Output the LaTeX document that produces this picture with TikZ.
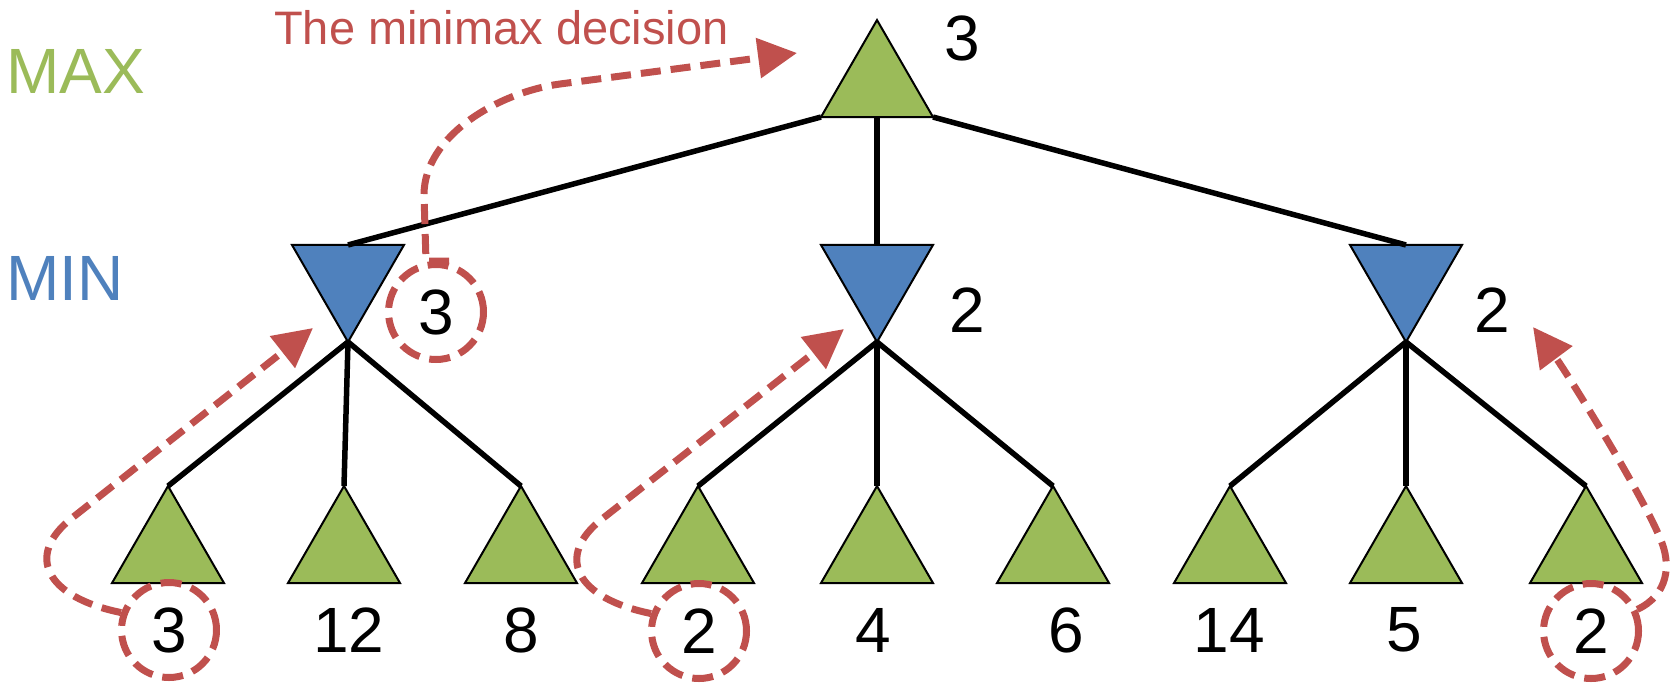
\documentclass[tikz,border=0pt]{standalone}
\usepackage{fontspec}
\setmainfont{Liberation Sans}
\usetikzlibrary{shapes.geometric,arrows.meta,calc}
\definecolor{mygreen}{HTML}{9BBB59}
\definecolor{myblue}{HTML}{4F81BD}
\definecolor{myred}{HTML}{C0504D}
\begin{document}
\begin{tikzpicture}[x=1pt,y=-1pt,
  tri/.style={regular polygon, regular polygon sides=3, minimum size=129.3pt,
    inner sep=0pt, outer sep=0pt, draw=black, line width=2pt},
  maxtri/.style={tri, fill=mygreen},
  mintri/.style={tri, fill=myblue, shape border rotate=180},
  edge/.style={line width=5.5pt, black},
  val/.style={font=\fontsize{64}{70}\selectfont, inner sep=0pt, text=black},
  ring/.style={val, circle, draw=myred, line width=7pt, dash pattern=on 21pt off 10pt,
    minimum size=95pt},
  flow/.style={color=myred, line width=7pt, dash pattern=on 20pt off 10pt,
    -{Triangle[length=39pt,width=39pt]}},
  lvl/.style={font=\fontsize{64}{70}\selectfont, inner sep=0pt, anchor=base west},
]
\useasboundingbox (0,0) rectangle (1677,685);

% level labels
\node[lvl, text=mygreen] (maxlbl) at (6,93) {MAX};
\node[lvl, text=myblue] (minlbl) at (6,300) {MIN};
\node[font=\fontsize{47}{52}\selectfont, inner sep=0pt, anchor=base west, text=myred]
  (title) at (274,45) {The minimax decision};

% root
\node[maxtri] (root) at (877,84.7) {};
% min nodes
\node[mintri] (minL) at (348,277.3) {};
\node[mintri] (minM) at (877,277.3) {};
\node[mintri] (minR) at (1406,277.3) {};
% leaves
\foreach \i/\x in {1/168,2/344,3/521,4/698,5/877,6/1053,7/1230,8/1406,9/1586}
  \node[maxtri] (leaf\i) at (\x,550.7) {};

% edges
\draw[edge] (root.corner 2) -- ($(minL.corner 2)!.5!(minL.corner 3)$);
\draw[edge] ($(root.corner 2)!.5!(root.corner 3)$) -- ($(minM.corner 2)!.5!(minM.corner 3)$);
\draw[edge] (root.corner 3) -- ($(minR.corner 2)!.5!(minR.corner 3)$);
\foreach \m/\a/\b/\c in {minL/1/2/3, minM/4/5/6, minR/7/8/9}{
  \draw[edge] (\m.corner 1) -- (leaf\a.corner 1);
  \draw[edge] (\m.corner 1) -- (leaf\b.corner 1);
  \draw[edge] (\m.corner 1) -- (leaf\c.corner 1);
}

% values
\node[val] (vroot) at (962,38) {3};
\node[ring] (cm) at (436,312) {3};
\node[val] (vminM) at (967,310) {2};
\node[val] (vminR) at (1492,310) {2};

\node[ring] (c1) at (169,630) {3};
\node[val] (v2) at (349,630) {12};
\node[val] (v3) at (521,630) {8};
\node[ring] (c4) at (699,631) {2};
\node[val] (v5) at (873,630) {4};
\node[val] (v6) at (1066,630) {6};
\node[val] (v7) at (1229,630) {14};
\node[val] (v8) at (1404,630) {5};
\node[ring] (c9) at (1591,631) {2};

% arrow end points
\coordinate (tipA) at (797,53);
\coordinate (tipB) at (313,328);
\coordinate (tipC) at (844,329);
\coordinate (tipD) at (1533,327);

% dashed arrows
\draw[flow] ($(cm.north)+(13,0)$) -- ($(cm.north)+(-10,0)$) -- (424,195)
  .. controls (424,135) and (500,92) .. (560,84) -- (tipA);
\draw[flow] (c1.160) .. controls (45,597) and (25,555) .. (72,518) -- (tipB);
\draw[flow] (c4.160) .. controls (575,598) and (555,556) .. (602,519) -- (tipC);
\draw[flow] (c9.25) .. controls (1668,595) and (1672,565) .. (1660,538)
  .. controls (1640,490) and (1565,370) .. (tipD);
\end{tikzpicture}
\end{document}
